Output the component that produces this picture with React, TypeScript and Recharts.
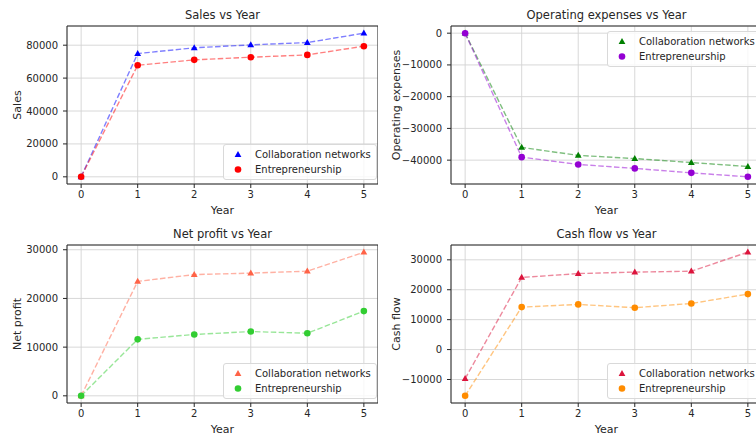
import React from 'react';
import { LineChart, Line, XAxis, YAxis, CartesianGrid, Legend, ReferenceArea, Label } from 'recharts';

const years = [0, 1, 2, 3, 4, 5];

const salesCollab = [0, 74900, 78400, 80200, 81600, 87300];
const salesEntre = [0, 67800, 71100, 72700, 74100, 79400];
const opexCollab = [0, -36000, -38500, -39500, -40750, -42000];
const opexEntre = [0, -39050, -41350, -42600, -44000, -45250];
const profitCollab = [0, 23500, 24900, 25200, 25600, 29500];
const profitEntre = [0, 11600, 12600, 13200, 12850, 17400];
const cashCollab = [-9700, 24100, 25400, 25900, 26200, 32550];
const cashEntre = [-15450, 14200, 15100, 14000, 15400, 18550];

const salesTicks = [0, 20000, 40000, 60000, 80000];
const opexTicks = [-40000, -30000, -20000, -10000, 0];
const profitTicks = [0, 10000, 20000, 30000];
const cashTicks = [-10000, 0, 10000, 20000, 30000];

const seriesNames = ['Collaboration networks', 'Entrepreneurship'];

const FONT = '"DejaVu Sans", sans-serif';
const INK = '#262626';

// matplotlib-style 5% autoscale margins
const pad = (vals: number[]): [number, number] => {
  const lo = Math.min(...vals);
  const hi = Math.max(...vals);
  const m = (hi - lo) * 0.05;
  return [lo - m, hi + m];
};

const fmt = (v: number) => (v < 0 ? '\u2212' + Math.abs(v) : String(v));

const Marker = ({ cx, cy, shape, color }: any) =>
  shape === 'tri' ? (
    <polygon points={`${cx},${cy - 3.6} ${cx + 3.4},${cy + 2.4} ${cx - 3.4},${cy + 2.4}`} fill={color} />
  ) : (
    <circle cx={cx} cy={cy} r={3.3} fill={color} />
  );

const LegendBox = ({ colors }: { colors: string[] }) => (
  <div
    style={{
      background: 'rgba(255,255,255,0.8)',
      border: '1px solid #d9d9d9',
      borderRadius: 3,
      padding: '2px 5px 2px 8px',
      fontFamily: FONT,
      fontSize: 10,
      lineHeight: '15px',
      color: INK,
    }}
  >
    {seriesNames.map((n, i) => (
      <div key={n} style={{ display: 'flex', alignItems: 'center', whiteSpace: 'nowrap' }}>
        <svg width={12} height={15} style={{ display: 'block' }}>
          <Marker cx={6} cy={7.5} shape={i === 0 ? 'tri' : 'dot'} color={colors[i]} />
        </svg>
        <span style={{ marginLeft: 11 }}>{n}</span>
      </div>
    ))}
  </div>
);

const YTitle = ({ viewBox, text }: any) => (
  <text
    x={viewBox.x + 5}
    y={viewBox.y + viewBox.height / 2}
    transform={`rotate(-90, ${viewBox.x + 5}, ${viewBox.y + viewBox.height / 2})`}
    textAnchor="middle"
    dominantBaseline="central"
    fontFamily={FONT}
    fontSize={11}
    fill={INK}
  >
    {text}
  </text>
);

const XTitle = ({ viewBox, dy }: any) => (
  <text
    x={viewBox.x + viewBox.width / 2}
    y={viewBox.y + viewBox.height - dy}
    textAnchor="middle"
    fontFamily={FONT}
    fontSize={11}
    fill={INK}
  >
    Year
  </text>
);

interface PanelProps {
  title: string;
  yLabel: string;
  left: number;
  top: number;
  width: number;
  marginLeft: number;
  marginTop: number;
  yWidth: number;
  collab: number[];
  entre: number[];
  ticks: number[];
  colors: string[];
  legendLeft: number;
  legendTop: number;
  titleTop: number;
  xLabelDy: number;
}

const Panel = (p: PanelProps) => {
  const data = years.map((y, i) => ({ year: y, collab: p.collab[i], entre: p.entre[i] }));
  const yDomain = pad([...p.collab, ...p.entre]);
  const xDomain = pad(years);
  const height = 218;
  const plotLeft = p.marginLeft + p.yWidth;
  return (
    <div style={{ position: 'absolute', left: p.left, top: p.top, width: p.width, height }}>
      <div
        style={{
          position: 'absolute',
          left: plotLeft,
          width: p.width - plotLeft,
          top: p.titleTop,
          textAlign: 'center',
          fontFamily: FONT,
          fontSize: 11.5,
          lineHeight: 1,
          color: INK,
          whiteSpace: 'nowrap',
        }}
      >
        {p.title}
      </div>
      <LineChart
        width={p.width}
        height={height}
        data={data}
        margin={{ top: p.marginTop, right: 0, left: p.marginLeft, bottom: 0 }}
      >
        <CartesianGrid stroke="#d4d4d4" strokeWidth={0.9} />
        <XAxis
          dataKey="year"
          type="number"
          domain={xDomain}
          ticks={years}
          height={218 - p.marginTop - 158}
          axisLine={false}
          tickLine={{ stroke: INK }}
          tickSize={4}
          tickMargin={3}
          tick={{ fontSize: 10, fill: INK, fontFamily: FONT }}
        >
          <Label content={(props: any) => <XTitle {...props} dy={p.xLabelDy} />} />
        </XAxis>
        <YAxis
          type="number"
          domain={yDomain}
          ticks={p.ticks}
          width={p.yWidth}
          axisLine={false}
          tickLine={{ stroke: INK }}
          tickSize={4}
          tickMargin={5}
          tickFormatter={fmt}
          tick={{ fontSize: 10, fill: INK, fontFamily: FONT }}
        >
          <Label content={(props: any) => <YTitle {...props} text={p.yLabel} />} />
        </YAxis>
        <Line
          type="linear"
          dataKey="collab"
          name={seriesNames[0]}
          stroke={p.colors[0]}
          strokeOpacity={0.5}
          strokeWidth={1.4}
          strokeDasharray="5.5 2.4"
          dot={(d: any) => <Marker key={'c' + d.index} cx={d.cx} cy={d.cy} shape="tri" color={p.colors[0]} />}
          activeDot={false}
          isAnimationActive={false}
        />
        <Line
          type="linear"
          dataKey="entre"
          name={seriesNames[1]}
          stroke={p.colors[1]}
          strokeOpacity={0.5}
          strokeWidth={1.4}
          strokeDasharray="5.5 2.4"
          dot={(d: any) => <Marker key={'e' + d.index} cx={d.cx} cy={d.cy} shape="dot" color={p.colors[1]} />}
          activeDot={false}
          isAnimationActive={false}
        />
        <ReferenceArea
          x1={xDomain[0]}
          x2={xDomain[1]}
          y1={yDomain[0]}
          y2={yDomain[1]}
          fill="none"
          stroke={INK}
          strokeWidth={1}
          ifOverflow="visible"
        />
        <Legend
          layout="vertical"
          align="center"
          verticalAlign="middle"
          content={() => <LegendBox colors={p.colors} />}
          wrapperStyle={{ left: p.legendLeft, top: p.legendTop, width: 'auto', height: 'auto' }}
        />
      </LineChart>
    </div>
  );
};

export default function App() {
  return (
    <div
      style={{
        position: 'absolute',
        left: 0,
        top: 0,
        width: 756,
        height: 436,
        overflow: 'hidden',
        background: '#fff',
      }}
    >
      <Panel
        title="Sales vs Year"
        yLabel="Sales"
        left={0}
        top={0}
        width={378}
        marginLeft={12}
        marginTop={26}
        yWidth={55}
        collab={salesCollab}
        entre={salesEntre}
        ticks={salesTicks}
        colors={['#0000ff', '#ff0000']}
        legendLeft={223}
        legendTop={144}
        titleTop={10}
        xLabelDy={4}
      />
      <Panel
        title="Operating expenses vs Year"
        yLabel="Operating expenses"
        left={378}
        top={0}
        width={384}
        marginLeft={13}
        marginTop={26}
        yWidth={60}
        collab={opexCollab}
        entre={opexEntre}
        ticks={opexTicks}
        colors={['#008000', '#9400d3']}
        legendLeft={229}
        legendTop={31}
        titleTop={10}
        xLabelDy={4}
      />
      <Panel
        title="Net profit vs Year"
        yLabel="Net profit"
        left={0}
        top={218}
        width={378}
        marginLeft={12}
        marginTop={27}
        yWidth={55}
        collab={profitCollab}
        entre={profitEntre}
        ticks={profitTicks}
        colors={['#ff6347', '#32cd32']}
        legendLeft={223}
        legendTop={145}
        titleTop={11}
        xLabelDy={3}
      />
      <Panel
        title="Cash flow vs Year"
        yLabel="Cash flow"
        left={378}
        top={218}
        width={384}
        marginLeft={13}
        marginTop={27}
        yWidth={60}
        collab={cashCollab}
        entre={cashEntre}
        ticks={cashTicks}
        colors={['#dc143c', '#ff8c00']}
        legendLeft={229}
        legendTop={145}
        titleTop={11}
        xLabelDy={3}
      />
    </div>
  );
}
